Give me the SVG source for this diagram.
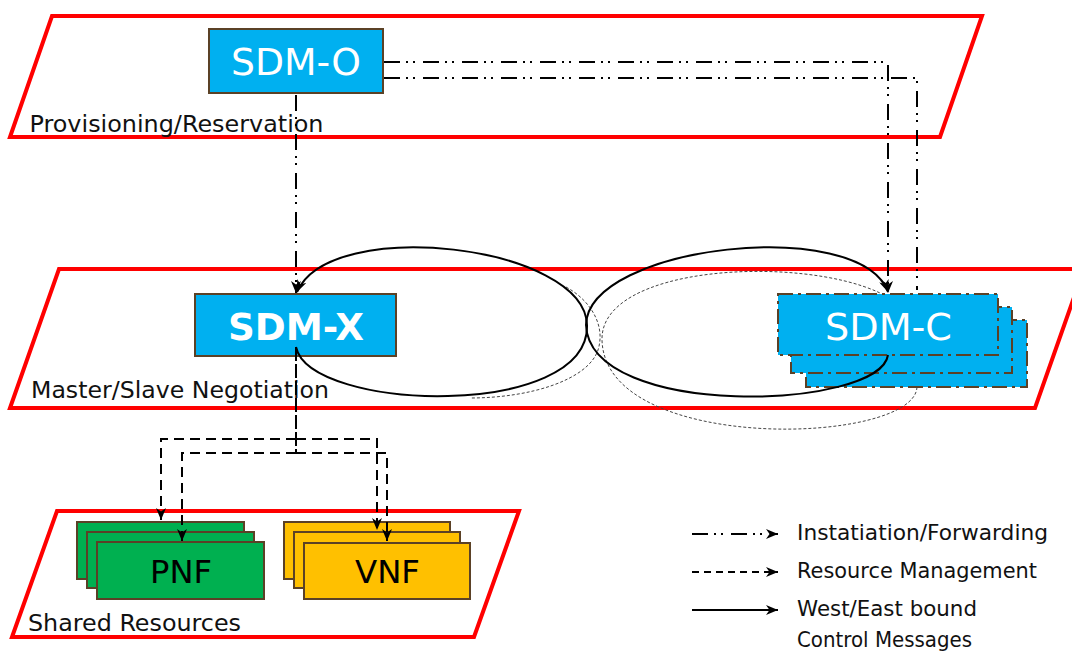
<svg xmlns="http://www.w3.org/2000/svg" width="1072" height="651" viewBox="0 0 1072 651">
<style>
.layer{fill:none;stroke:#FF0000;stroke-width:4;stroke-linejoin:miter}
.lbl{font-family:'DejaVu Sans',Verdana,sans-serif;font-size:23.5px;fill:#111}
.leg{font-family:'DejaVu Sans',Verdana,sans-serif;font-size:21px;fill:#111}
.blue{fill:#00B0F0;stroke:#5B4126;stroke-width:2}
.bluedd{fill:#00B0F0;stroke:#5B4126;stroke-width:2;stroke-dasharray:15 5 3 5}
.green{fill:#00B050;stroke:#5B4126;stroke-width:2}
.yellow{fill:#FFC000;stroke:#5B4126;stroke-width:2}
.wt{font-family:'DejaVu Sans',Verdana,sans-serif;font-size:38px;fill:#fff;text-anchor:middle}
.bt{font-family:'DejaVu Sans',Verdana,sans-serif;font-size:32px;fill:#000;text-anchor:middle}
.dd{fill:none;stroke:#000;stroke-width:2;stroke-dasharray:16 6 2 5 2 8}
.da{fill:none;stroke:#000;stroke-width:2;stroke-dasharray:10 6}
.so{fill:none;stroke:#000;stroke-width:2}
.gh{fill:none;stroke:#444;stroke-width:1;stroke-dasharray:3 2}
</style>
<defs>
<marker id="arr" viewBox="0 0 12 10" refX="12" refY="5" markerWidth="12" markerHeight="10" markerUnits="userSpaceOnUse" orient="auto">
<path d="M0,0 L12,5 L0,10 L3.5,5 Z" fill="#000"/>
</marker>
</defs>
<rect width="1072" height="651" fill="#fff"/>

<g id="layer-provisioning">
<polygon class="layer" points="52,16 982,16 940,137 10,137"/>
<text class="lbl" x="29.5" y="131.5" textLength="294" lengthAdjust="spacingAndGlyphs">Provisioning/Reservation</text>
</g>
<g id="layer-negotiation">
<polygon class="layer" points="59,269 1084,269 1035,408 10,408"/>
<text class="lbl" x="31" y="398" textLength="298" lengthAdjust="spacingAndGlyphs">Master/Slave Negotiation</text>
</g>
<g id="layer-shared">
<polygon class="layer" points="57,511 519,511 474,637 12,637"/>
<text class="lbl" x="28" y="631" textLength="213" lengthAdjust="spacingAndGlyphs">Shared Resources</text>
</g>

<g id="sdm-o">
<rect class="blue" x="209" y="29" width="174" height="64"/>
<text class="wt" x="296" y="75" textLength="130" lengthAdjust="spacingAndGlyphs">SDM-O</text>
</g>
<g id="sdm-x">
<rect class="blue" x="195" y="294" width="201" height="62"/>
<text class="wt" x="296" y="339.5" font-weight="bold" font-size="37" textLength="136" lengthAdjust="spacingAndGlyphs">SDM-X</text>
</g>
<g id="sdm-c">
<rect class="bluedd" x="806" y="320" width="221" height="67"/>
<rect class="bluedd" x="791" y="307" width="221" height="66"/>
<rect class="bluedd" x="778" y="294" width="220" height="61"/>
<text class="wt" x="888.5" y="339.5" textLength="127" lengthAdjust="spacingAndGlyphs">SDM-C</text>
</g>
<g id="pnf">
<rect class="green" x="77" y="522" width="167" height="57"/>
<rect class="green" x="87" y="532" width="167" height="56"/>
<rect class="green" x="97" y="542" width="167" height="57"/>
<text class="bt" x="181" y="583" textLength="62" lengthAdjust="spacingAndGlyphs">PNF</text>
</g>
<g id="vnf">
<rect class="yellow" x="284" y="522" width="166" height="57"/>
<rect class="yellow" x="294" y="532" width="166" height="56"/>
<rect class="yellow" x="304" y="543" width="166" height="56"/>
<text class="bt" x="387.5" y="583" textLength="65" lengthAdjust="spacingAndGlyphs">VNF</text>
</g>

<g id="connectors">
<path class="gh" d="M566,287 C590,300 606,325 598,350 C588,380 530,398 470,398"/>
<path class="gh" d="M917,387 C915,445 605,455 602,340 C600,265 800,255 880,293"/>
<path class="dd" d="M296,95 V293" marker-end="url(#arr)"/>
<path class="dd" d="M384,62 H888 V293" marker-end="url(#arr)"/>
<path class="dd" d="M384,78 H917 V290"/>
<path class="so" d="M296,347 C310,412 590,420 587,325 C585,245 330,215 297,292" marker-end="url(#arr)"/>
<path class="so" d="M888,355 C880,410 590,420 586,325 C588,245 860,215 888,292" marker-end="url(#arr)"/>
<path class="da" d="M296,347 V453" style="stroke-dasharray:14 3"/>
<path class="da" d="M296,439 H161 V520" marker-end="url(#arr)"/>
<path class="da" d="M296,439 H377 V530" marker-end="url(#arr)"/>
<path class="da" d="M296,453 H182 V541" marker-end="url(#arr)"/>
<path class="da" d="M296,453 H387 V541" marker-end="url(#arr)"/>
</g>

<g id="legend">
<path class="dd" d="M692,534 H778" marker-end="url(#arr)"/>
<path class="da" d="M692,572 H778" style="stroke-dasharray:7 5" marker-end="url(#arr)"/>
<path class="so" d="M692,610 H778" marker-end="url(#arr)"/>
<text class="leg" x="797" y="540" textLength="251" lengthAdjust="spacingAndGlyphs">Instatiation/Forwarding</text>
<text class="leg" x="797" y="578" textLength="240" lengthAdjust="spacingAndGlyphs">Resource Management</text>
<text class="leg" x="797" y="616" textLength="180" lengthAdjust="spacingAndGlyphs">West/East bound</text>
<text class="leg" x="797" y="647" textLength="175" lengthAdjust="spacingAndGlyphs">Control Messages</text>
</g>
</svg>
